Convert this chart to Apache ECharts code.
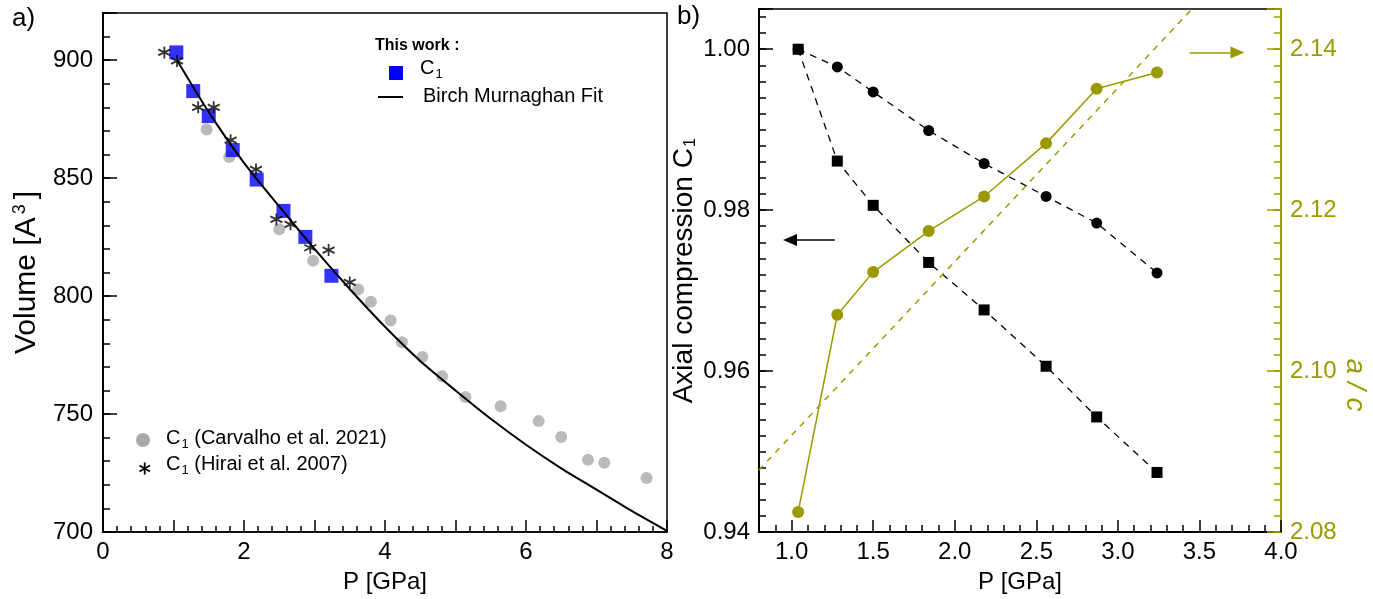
<!DOCTYPE html>
<html>
<head>
<meta charset="utf-8">
<script src="https://cdn.jsdelivr.net/npm/echarts@6/dist/echarts.min.js"></script>
<style>
  html, body { margin: 0; padding: 0; background: #fff; }
  #chart { width: 1373px; height: 599px; }
</style>
</head>
<body>
<div id="chart"></div>
<script>
// ---- data ----
var pressureGPa = [1.04, 1.28, 1.50, 1.84, 2.18, 2.56, 2.87, 3.24];
var volumeThisWork = [903.3, 886.9, 876.3, 861.9, 849.4, 836.1, 825.1, 808.6];

var birchP = [1.05, 1.5, 2.0, 2.5, 3.0, 3.5, 4.0, 4.5, 5.0, 5.5, 6.0, 6.5, 7.0, 7.5, 8.0];
var birchV = [900, 878, 856.5, 838, 820, 803, 787, 772.5, 760, 748, 737, 727, 718, 709, 700.5];

var carvalhoP = [1.47, 1.79, 2.50, 2.98, 3.62, 3.80, 4.08, 4.24, 4.53, 4.81, 5.14, 5.64, 6.18, 6.50, 6.88, 7.11, 7.71];
var carvalhoV = [870.6, 859.0, 828.3, 815.0, 802.8, 797.6, 789.7, 780.4, 774.2, 766.0, 757.2, 753.3, 747.0, 740.3, 730.6, 729.4, 722.9];

var hiraiP = [0.87, 1.05, 1.35, 1.57, 1.81, 2.17, 2.46, 2.66, 2.94, 3.20, 3.50];
var hiraiV = [903.3, 899.7, 880.0, 880.0, 866.1, 853.7, 832.5, 830.4, 820.5, 819.5, 805.8];

var compSquares = [1.0000, 0.9861, 0.9806, 0.9735, 0.9676, 0.9606, 0.9543, 0.9474];
var compCircles = [1.0000, 0.9978, 0.9947, 0.9899, 0.9858, 0.9817, 0.9784, 0.9722];
var ratioAC = [2.0825, 2.1070, 2.1123, 2.1174, 2.1217, 2.1283, 2.1351, 2.1371];
var ratioFitP = [0.8, 3.45];
var ratioFitAC = [2.0877, 2.1449];

var pTicksA = [0, 2, 4, 6, 8];
var volumeTicks = [700, 750, 800, 850, 900];
var pTicksB = [1.0, 1.5, 2.0, 2.5, 3.0, 3.5, 4.0];
var compTicks = [0.94, 0.96, 0.98, 1.00];
var ratioTicks = [2.08, 2.10, 2.12, 2.14];

var FONT = 'Liberation Sans, Arial, sans-serif';
var OLIVE = '#9a9a00';
var TICK_FONT = 24;
var TITLE_FONT = 28;

var rectA = { left: 103, top: 13, width: 564, height: 519 };
var rectB = { left: 759, top: 9, width: 522, height: 523 };

function pts(xs, ys) {
  return xs.map(function (x, i) { return [x, ys[i]]; });
}
function inList(list, v) {
  return list.some(function (t) { return Math.abs(t - v) < 1e-6; });
}

var asterisk = 'path://M0,-6L0,6M-5.2,-3L5.2,3M-5.2,3L5.2,-3';

function baseAxis(color) {
  return {
    type: 'value',
    axisLine: { show: true, onZero: false, lineStyle: { color: color, width: 1.5 } },
    splitLine: { show: false },
    nameTextStyle: { color: color, fontSize: 24, fontFamily: FONT }
  };
}
function ticks(color, len) {
  return { show: true, inside: true, length: len, lineStyle: { color: color, width: 1.5 } };
}
function labels(color, margin, list, digits) {
  return {
    color: color, fontSize: TICK_FONT, fontFamily: FONT, margin: margin,
    formatter: function (v) { return inList(list, v) ? v.toFixed(digits) : ''; }
  };
}
// axis that only adds the short ticks; it sits in its own overlay grid
function minorAxis(color, width, extra) {
  return Object.assign({
    type: 'value',
    axisLine: { show: true, onZero: false, lineStyle: { color: color, width: width } },
    axisTick: ticks(color, 7),
    axisLabel: { show: false },
    splitLine: { show: false }
  }, extra);
}
// partner axis of an overlay grid: present but draws nothing
function blankAxis(extra) {
  return Object.assign({
    type: 'value', min: 0, max: 1,
    axisLine: { show: false }, axisTick: { show: false },
    axisLabel: { show: false }, splitLine: { show: false }
  }, extra);
}

var chart = echarts.init(document.getElementById('chart'));

var option = {
  animation: false,
  backgroundColor: '#fff',
  textStyle: { fontFamily: FONT },
  grid: [
    Object.assign({ show: true, borderColor: '#000', borderWidth: 1.5 }, rectA),
    Object.assign({ show: true, borderColor: '#000', borderWidth: 1.5 }, rectB),
    Object.assign({}, rectA),
    Object.assign({}, rectB),
    Object.assign({}, rectB)
  ],
  xAxis: [
    Object.assign(baseAxis('#000'), {
      gridIndex: 0, position: 'bottom', min: 0, max: 8, interval: 1,
      name: 'P [GPa]', nameLocation: 'middle', nameGap: 38,
      axisTick: ticks('#000', 12),
      minorTick: { show: true, splitNumber: 5, length: 6, lineStyle: { color: '#000', width: 1.5 } },
      axisLabel: labels('#000', 8, pTicksA, 0)
    }),
    Object.assign(baseAxis('#000'), {
      gridIndex: 1, position: 'bottom', min: 0.8, max: 4.0, splitNumber: 7,
      name: 'P [GPa]', nameLocation: 'middle', nameGap: 38,
      axisTick: ticks('#000', 12),
      axisLabel: labels('#000', 8, pTicksB, 1)
    }),
    blankAxis({ gridIndex: 2, position: 'bottom' }),
    minorAxis('#000', 1.5, { gridIndex: 3, position: 'bottom', min: 0.8, max: 4.0, interval: 0.1 }),
    blankAxis({ gridIndex: 4, position: 'bottom' })
  ],
  yAxis: [
    Object.assign(baseAxis('#000'), {
      gridIndex: 0, position: 'left', min: 700, max: 920, interval: 50,
      name: 'Volume [A{sup|3}]', nameLocation: 'middle', nameGap: 60,
      nameTextStyle: { color: '#000', fontSize: 30, fontFamily: FONT,
        rich: { sup: { fontSize: 18, verticalAlign: 'top', padding: [0, 5, 14, 3], fontFamily: FONT } } },
      axisTick: ticks('#000', 14),
      axisLabel: labels('#000', 10, volumeTicks, 0)
    }),
    Object.assign(baseAxis('#000'), {
      gridIndex: 1, position: 'left', min: 0.94, max: 1.005, interval: 0.02,
      name: 'Axial compression C{sub|1}', nameLocation: 'middle', nameGap: 60,
      nameTextStyle: { color: '#000', fontSize: TITLE_FONT, fontFamily: FONT,
        rich: { sub: { fontSize: 17, verticalAlign: 'bottom', padding: [12, 0, 0, 1], fontFamily: FONT } } },
      axisTick: ticks('#000', 14),
      axisLabel: labels('#000', 9, compTicks, 2)
    }),
    Object.assign(baseAxis(OLIVE), {
      gridIndex: 1, position: 'right', min: 2.08, max: 2.145, interval: 0.02,
      axisLine: { show: true, onZero: false, lineStyle: { color: OLIVE, width: 2 } },
      axisTick: ticks(OLIVE, 14),
      axisLabel: labels(OLIVE, 9, ratioTicks, 2)
    }),
    minorAxis('#000', 1.5, { gridIndex: 2, position: 'left', min: 700, max: 920, interval: 10 }),
    minorAxis('#000', 1.5, { gridIndex: 3, position: 'left', min: 0.94, max: 1.005, interval: 0.002 }),
    minorAxis(OLIVE, 2, { gridIndex: 4, position: 'right', min: 2.08, max: 2.145, interval: 0.002 })
  ],
  series: [
    {
      name: 'C1 (Carvalho et al. 2021)', type: 'scatter', xAxisIndex: 0, yAxisIndex: 0,
      symbol: 'circle', symbolSize: 12, itemStyle: { color: '#a9a9a9' },
      data: pts(carvalhoP, carvalhoV)
    },
    {
      name: 'Birch Murnaghan Fit', type: 'line', xAxisIndex: 0, yAxisIndex: 0,
      smooth: 0.25, symbol: 'none', lineStyle: { color: '#000', width: 2 },
      data: pts(birchP, birchV)
    },
    {
      name: 'C1', type: 'scatter', xAxisIndex: 0, yAxisIndex: 0,
      symbol: 'rect', symbolSize: 14, itemStyle: { color: '#0000ff' },
      data: pts(pressureGPa, volumeThisWork)
    },
    {
      name: 'C1 (Hirai et al. 2007)', type: 'scatter', xAxisIndex: 0, yAxisIndex: 0,
      symbol: asterisk, symbolSize: 12,
      itemStyle: { color: '#000', borderColor: '#000', borderWidth: 1.8 },
      data: pts(hiraiP, hiraiV)
    },
    {
      name: 'circles', type: 'line', xAxisIndex: 1, yAxisIndex: 1,
      symbol: 'circle', symbolSize: 11, itemStyle: { color: '#000' },
      lineStyle: { color: '#000', width: 1.3, type: [7, 6] },
      data: pts(pressureGPa, compCircles)
    },
    {
      name: 'squares', type: 'line', xAxisIndex: 1, yAxisIndex: 1,
      symbol: 'rect', symbolSize: 11, itemStyle: { color: '#000' },
      lineStyle: { color: '#000', width: 1.3, type: [7, 6] },
      data: pts(pressureGPa, compSquares),
      markLine: {
        silent: true, symbol: ['none', 'triangle'], symbolSize: [12, 14],
        label: { show: false },
        lineStyle: { color: '#000', width: 1.5, type: 'solid' },
        data: [[{ coord: [1.265, 0.9763] }, { coord: [0.99, 0.9763] }]]
      }
    },
    {
      name: 'ratio fit', type: 'line', xAxisIndex: 1, yAxisIndex: 2,
      symbol: 'none', lineStyle: { color: OLIVE, width: 1.5, type: [6, 6] },
      data: pts(ratioFitP, ratioFitAC)
    },
    {
      name: 'a/c', type: 'line', xAxisIndex: 1, yAxisIndex: 2,
      symbol: 'circle', symbolSize: 12, itemStyle: { color: OLIVE },
      lineStyle: { color: OLIVE, width: 1.5 },
      data: pts(pressureGPa, ratioAC),
      markLine: {
        silent: true, symbol: ['none', 'triangle'], symbolSize: [12, 14],
        label: { show: false },
        lineStyle: { color: OLIVE, width: 1.5, type: 'solid' },
        data: [[{ coord: [3.44, 2.1396] }, { coord: [3.733, 2.1396] }]]
      }
    }
  ],
  graphic: [
    { type: 'text', left: 12, top: 6, style: { text: 'a)', fontSize: 26, fontFamily: FONT, fill: '#000' } },
    { type: 'text', left: 677, top: 4, style: { text: 'b)', fontSize: 26, fontFamily: FONT, fill: '#000' } },
    // right axis title
    { type: 'text', x: 1355, y: 385, rotation: -Math.PI / 2,
      style: { text: 'a / c', fontSize: TITLE_FONT, fontStyle: 'italic', fontFamily: FONT, fill: OLIVE,
        align: 'center', verticalAlign: 'middle' } },
    // legend: this work
    { type: 'text', left: 375, top: 38, style: { text: 'This work :', fontSize: 16, fontWeight: 'bold', fontFamily: FONT, fill: '#000' } },
    { type: 'rect', shape: { x: 389, y: 66, width: 14, height: 14 }, style: { fill: '#0000ff' } },
    { type: 'text', left: 420, top: 58, style: { text: 'C{sub|1}', fontSize: 20, fontFamily: FONT, fill: '#000',
        rich: { sub: { fontSize: 13, verticalAlign: 'bottom', padding: [12, 0, 0, 1] } } } },
    { type: 'line', shape: { x1: 378, y1: 97, x2: 403, y2: 97 }, style: { stroke: '#000', lineWidth: 2 } },
    { type: 'text', left: 423, top: 86, style: { text: 'Birch Murnaghan Fit', fontSize: 20, fontFamily: FONT, fill: '#000' } },
    // legend: literature
    { type: 'circle', shape: { cx: 143, cy: 440, r: 7 }, style: { fill: '#a9a9a9' } },
    { type: 'text', left: 166, top: 428, style: { text: 'C{sub|1} (Carvalho et al. 2021)', fontSize: 20, fontFamily: FONT, fill: '#000',
        rich: { sub: { fontSize: 13, verticalAlign: 'bottom', padding: [12, 0, 0, 1] } } } },
    { type: 'group', left: 137, top: 460, children: [
      { type: 'line', shape: { x1: 6, y1: 0, x2: 6, y2: 12 }, style: { stroke: '#000', lineWidth: 1.8 } },
      { type: 'line', shape: { x1: 0.8, y1: 3, x2: 11.2, y2: 9 }, style: { stroke: '#000', lineWidth: 1.8 } },
      { type: 'line', shape: { x1: 0.8, y1: 9, x2: 11.2, y2: 3 }, style: { stroke: '#000', lineWidth: 1.8 } }
    ] },
    { type: 'text', left: 166, top: 454, style: { text: 'C{sub|1} (Hirai et al. 2007)', fontSize: 20, fontFamily: FONT, fill: '#000',
        rich: { sub: { fontSize: 13, verticalAlign: 'bottom', padding: [12, 0, 0, 1] } } } }
  ]
};

chart.setOption(option);
window.addEventListener('resize', function () { chart.resize(); });
</script>
</body>
</html>
